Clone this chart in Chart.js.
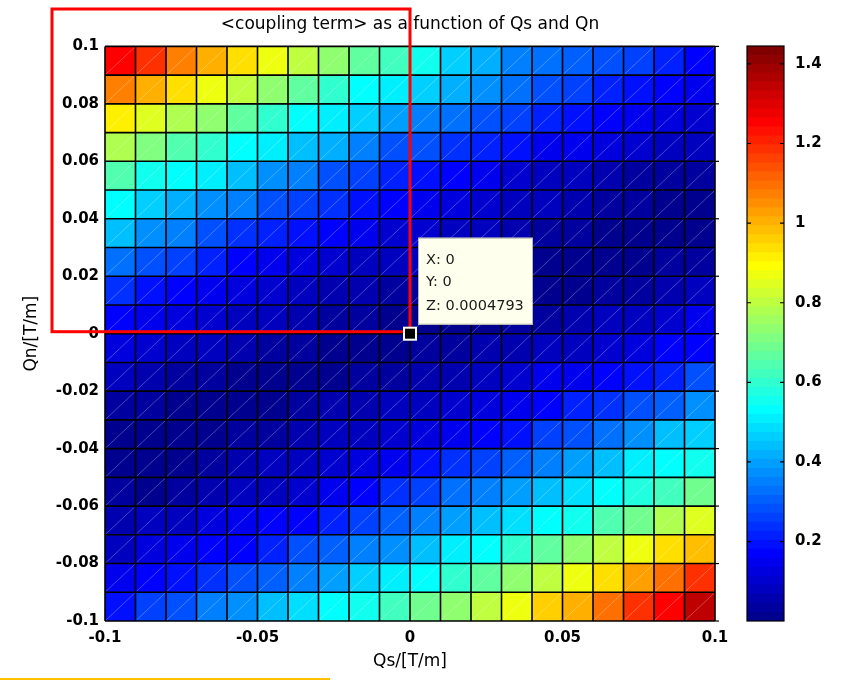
<!DOCTYPE html>
<html>
<head>
<meta charset="utf-8">
<title>coupling term</title>
<script src="https://cdn.jsdelivr.net/npm/chart.js@4.4.1/dist/chart.umd.min.js"></script>
<style>
  html, body { margin: 0; padding: 0; background: #fff; }
  #wrap { position: relative; width: 843px; height: 681px; }
  #main-chart { position: absolute; left: 0; top: 0; }
  #colorbar-chart { position: absolute; left: 740px; top: 0; }
</style>
</head>
<body>
<div id="wrap">
  <canvas id="main-chart" width="843" height="681"></canvas>
  <canvas id="colorbar-chart" width="103" height="681"></canvas>
</div>
<script>
// grid edges: Qs left to right, Qn top to bottom
const qsEdges = [-0.1, -0.09, -0.08, -0.07, -0.06, -0.05, -0.04, -0.03, -0.02, -0.01, 0,
                 0.01, 0.02, 0.03, 0.04, 0.05, 0.06, 0.07, 0.08, 0.09, 0.1];
const qnEdges = [0.1, 0.09, 0.08, 0.07, 0.06, 0.05, 0.04, 0.03, 0.02, 0.01, 0,
                 -0.01, -0.02, -0.03, -0.04, -0.05, -0.06, -0.07, -0.08, -0.09, -0.1];

// <coupling term> per face, one row per Qn band (top row first)
const couplingRows = [
  [1.25, 1.18, 1.08, 1.00, 0.93, 0.87, 0.80, 0.73, 0.66, 0.61, 0.55, 0.47, 0.41, 0.36, 0.33, 0.30, 0.28, 0.25, 0.22, 0.18],
  [1.08, 1.00, 0.93, 0.87, 0.80, 0.73, 0.66, 0.60, 0.54, 0.51, 0.47, 0.42, 0.37, 0.32, 0.29, 0.26, 0.22, 0.20, 0.17, 0.15],
  [0.92, 0.85, 0.77, 0.73, 0.66, 0.60, 0.54, 0.50, 0.46, 0.40, 0.36, 0.32, 0.28, 0.25, 0.21, 0.19, 0.16, 0.14, 0.13, 0.11],
  [0.78, 0.71, 0.64, 0.59, 0.53, 0.50, 0.45, 0.41, 0.34, 0.29, 0.28, 0.24, 0.21, 0.19, 0.15, 0.14, 0.12, 0.10, 0.09, 0.07],
  [0.64, 0.56, 0.53, 0.50, 0.43, 0.37, 0.34, 0.29, 0.26, 0.21, 0.19, 0.16, 0.14, 0.11, 0.09, 0.07, 0.06, 0.04, 0.03, 0.03],
  [0.53, 0.47, 0.42, 0.37, 0.34, 0.29, 0.27, 0.24, 0.19, 0.16, 0.15, 0.13, 0.11, 0.09, 0.07, 0.05, 0.04, 0.03, 0.02, 0.02],
  [0.43, 0.37, 0.34, 0.29, 0.24, 0.22, 0.19, 0.16, 0.14, 0.11, 0.10, 0.09, 0.07, 0.06, 0.04, 0.03, 0.02, 0.01, 0.01, 0.02],
  [0.32, 0.29, 0.25, 0.22, 0.17, 0.15, 0.13, 0.11, 0.09, 0.07, 0.07, 0.06, 0.05, 0.03, 0.02, 0.01, 0.01, 0.02, 0.03, 0.04],
  [0.24, 0.19, 0.16, 0.14, 0.12, 0.10, 0.08, 0.06, 0.05, 0.03, 0.03, 0.02, 0.02, 0.01, 0.01, 0.02, 0.03, 0.04, 0.06, 0.07],
  [0.17, 0.14, 0.12, 0.10, 0.08, 0.07, 0.05, 0.04, 0.03, 0.02, 0.0004793, 0.01, 0.02, 0.03, 0.04, 0.05, 0.07, 0.09, 0.11, 0.14],
  [0.13, 0.11, 0.09, 0.07, 0.05, 0.04, 0.03, 0.02, 0.01, 0.01, 0.03, 0.03, 0.05, 0.06, 0.07, 0.09, 0.11, 0.13, 0.16, 0.18],
  [0.07, 0.06, 0.04, 0.03, 0.02, 0.01, 0.01, 0.02, 0.03, 0.04, 0.05, 0.06, 0.08, 0.11, 0.14, 0.15, 0.17, 0.19, 0.22, 0.28],
  [0.04, 0.03, 0.02, 0.01, 0.01, 0.02, 0.03, 0.05, 0.06, 0.08, 0.09, 0.10, 0.12, 0.14, 0.17, 0.21, 0.23, 0.28, 0.30, 0.37],
  [0.02, 0.01, 0.01, 0.01, 0.03, 0.04, 0.06, 0.07, 0.09, 0.11, 0.12, 0.14, 0.18, 0.19, 0.25, 0.28, 0.32, 0.37, 0.43, 0.47],
  [0.01, 0.01, 0.02, 0.03, 0.05, 0.07, 0.09, 0.11, 0.13, 0.15, 0.19, 0.24, 0.26, 0.30, 0.34, 0.39, 0.44, 0.50, 0.53, 0.56],
  [0.03, 0.02, 0.03, 0.05, 0.07, 0.09, 0.11, 0.15, 0.18, 0.23, 0.26, 0.32, 0.35, 0.39, 0.44, 0.48, 0.52, 0.58, 0.63, 0.70],
  [0.05, 0.07, 0.09, 0.12, 0.14, 0.16, 0.18, 0.22, 0.26, 0.30, 0.34, 0.40, 0.44, 0.48, 0.54, 0.56, 0.64, 0.70, 0.77, 0.84],
  [0.09, 0.12, 0.14, 0.16, 0.18, 0.22, 0.29, 0.30, 0.35, 0.38, 0.44, 0.50, 0.54, 0.60, 0.66, 0.73, 0.80, 0.87, 0.93, 0.99],
  [0.14, 0.17, 0.19, 0.24, 0.28, 0.30, 0.35, 0.40, 0.46, 0.51, 0.54, 0.60, 0.66, 0.73, 0.80, 0.87, 0.94, 1.02, 1.09, 1.18],
  [0.20, 0.25, 0.29, 0.34, 0.38, 0.43, 0.48, 0.52, 0.56, 0.61, 0.68, 0.73, 0.80, 0.88, 0.95, 1.01, 1.09, 1.18, 1.25, 1.34]
];

const qsTicks = [-0.1, -0.05, 0, 0.05, 0.1];
const qnTicks = [-0.1, -0.08, -0.06, -0.04, -0.02, 0, 0.02, 0.04, 0.06, 0.08, 0.1];
const colorTicks = [0.2, 0.4, 0.6, 0.8, 1, 1.2, 1.4];
const colorLimits = [0.0004793, 1.445];

// data tip sits on the grid node (Qs, Qn) = (0, 0)
const tipQs = 0;
const tipQn = 0;

const FONT = 'DejaVu Sans';
const BAND_COUNT = 64;

// MATLAB jet(64)
function jetRgb(i) {
  const u = k => (k < 1 || k > 47) ? 0 : k <= 16 ? k / 16 : k <= 31 ? 1 : (48 - k) / 16;
  const r = i >= 25 ? u(i - 24) : 0;
  const g = (i >= 9 && i <= 55) ? u(i - 8) : 0;
  const b = i <= 39 ? u(i + 8) : 0;
  return `rgb(${Math.round(r * 255)},${Math.round(g * 255)},${Math.round(b * 255)})`;
}

function colorFor(v) {
  const [lo, hi] = colorLimits;
  let idx = Math.floor((v - lo) / (hi - lo) * BAND_COUNT) + 1;
  idx = Math.max(1, Math.min(BAND_COUNT, idx));
  return jetRgb(idx);
}

// one record per face, corners taken from the edge lists
const cellData = [];
couplingRows.forEach((row, r) => {
  row.forEach((v, c) => {
    cellData.push({ x: qsEdges[c], y: qnEdges[r + 1], x2: qsEdges[c + 1], y2: qnEdges[r], v: v });
  });
});

function tipValue() {
  const r = qnEdges.indexOf(tipQn) - 1;
  const c = qsEdges.indexOf(tipQs);
  return couplingRows[r][c];
}

// faces, seams and edges of the surface
const surfacePlugin = {
  id: 'surfaceCells',
  beforeDatasetsDraw(chart) {
    const { ctx, scales: { x, y } } = chart;
    ctx.save();
    chart.data.datasets[0].data.forEach(cell => {
      const left = x.getPixelForValue(cell.x);
      const right = x.getPixelForValue(cell.x2);
      const top = y.getPixelForValue(cell.y2);
      const bottom = y.getPixelForValue(cell.y);
      ctx.fillStyle = colorFor(cell.v);
      ctx.fillRect(left, top, right - left, bottom - top);
      ctx.strokeStyle = 'rgba(255,255,255,0.35)';
      ctx.lineWidth = 0.8;
      ctx.beginPath();
      ctx.moveTo(left + 1, bottom - 1);
      ctx.lineTo(right - 1, top + 1);
      ctx.stroke();
    });
    ctx.strokeStyle = '#000';
    ctx.lineWidth = 1.6;
    qsEdges.forEach(q => {
      const px = x.getPixelForValue(q);
      ctx.beginPath(); ctx.moveTo(px, y.top); ctx.lineTo(px, y.bottom); ctx.stroke();
    });
    qnEdges.forEach(q => {
      const py = y.getPixelForValue(q);
      ctx.beginPath(); ctx.moveTo(x.left, py); ctx.lineTo(x.right, py); ctx.stroke();
    });
    // short ticks poking out on the right side
    ctx.lineWidth = 1.2;
    qnTicks.forEach(q => {
      const py = y.getPixelForValue(q);
      ctx.beginPath(); ctx.moveTo(x.right, py); ctx.lineTo(x.right + 4, py); ctx.stroke();
    });
    ctx.restore();
  }
};

// highlight box, data tip and underline
const overlayPlugin = {
  id: 'overlay',
  afterDraw(chart) {
    const { ctx, scales: { x, y } } = chart;
    const px = x.getPixelForValue(tipQs);
    const py = y.getPixelForValue(tipQn);
    ctx.save();

    ctx.strokeStyle = '#ff0000';
    ctx.lineWidth = 3;
    ctx.strokeRect(52, 9, px - 52, py - 2 - 9);

    // data tip marker
    ctx.fillStyle = '#fffff2';
    ctx.fillRect(px - 7, py - 7, 14, 14);
    ctx.fillStyle = '#000';
    ctx.fillRect(px - 5, py - 5, 10, 10);

    // data tip box
    const bx = px + 8, by = py - 96, bw = 115, bh = 87;
    ctx.fillStyle = '#ffffee';
    ctx.fillRect(bx, by, bw, bh);
    ctx.strokeStyle = '#b8b8a8';
    ctx.lineWidth = 1;
    ctx.strokeRect(bx + 0.5, by + 0.5, bw - 1, bh - 1);
    ctx.fillStyle = '#1a1a1a';
    ctx.font = `14.5px "${FONT}"`;
    ctx.textAlign = 'left';
    ctx.textBaseline = 'middle';
    ctx.fillText(`X: ${tipQs}`, bx + 8, by + 23);
    ctx.fillText(`Y: ${tipQn}`, bx + 8, by + 45);
    ctx.fillText(`Z: ${tipValue()}`, bx + 8, by + 69);

    ctx.strokeStyle = '#ffc000';
    ctx.lineWidth = 2;
    ctx.beginPath(); ctx.moveTo(0, 679); ctx.lineTo(330, 679); ctx.stroke();
    ctx.restore();
  }
};

const tickFont = { family: FONT, size: 15, weight: 'bold' };
const labelFont = { family: FONT, size: 17, weight: 'normal' };

const mainChart = new Chart(document.getElementById('main-chart'), {
  type: 'scatter',
  data: {
    datasets: [{ data: cellData, pointRadius: 0, pointHoverRadius: 0 }]
  },
  options: {
    responsive: false,
    animation: false,
    events: [],
    layout: { padding: { left: 0, right: 128, top: 0, bottom: 0 } },
    plugins: {
      legend: { display: false },
      tooltip: { enabled: false },
      title: {
        display: true,
        fullSize: false,
        text: '<coupling term> as a function of Qs and Qn',
        color: '#000',
        font: labelFont,
        padding: { top: 14, bottom: 12 }
      }
    },
    scales: {
      x: {
        type: 'linear',
        min: -0.1,
        max: 0.1,
        afterBuildTicks: s => { s.ticks = qsTicks.map(v => ({ value: v })); },
        afterFit: s => { s.height = 60; },
        grid: { display: false, drawTicks: false },
        border: { display: false },
        ticks: { color: '#000', font: tickFont, padding: 8, maxRotation: 0, callback: v => String(v) },
        title: { display: true, text: 'Qs/[T/m]', color: '#000', font: labelFont, padding: { top: 0, bottom: 9 } }
      },
      y: {
        type: 'linear',
        min: -0.1,
        max: 0.1,
        afterBuildTicks: s => { s.ticks = qnTicks.map(v => ({ value: v })); },
        afterFit: s => { s.width = 105; },
        grid: { display: false, drawTicks: false },
        border: { display: false },
        ticks: { color: '#000', font: tickFont, padding: 6, callback: v => String(v) },
        title: { display: true, text: 'Qn/[T/m]', color: '#000', font: labelFont, padding: { top: 21, bottom: 0 } }
      }
    }
  },
  plugins: [surfacePlugin, overlayPlugin]
});

// colour bar: 64 floating bars stacked in one slot
const bandStep = (colorLimits[1] - colorLimits[0]) / BAND_COUNT;
const bandSets = [];
for (let k = 0; k < BAND_COUNT; k++) {
  const lo = colorLimits[0] + k * bandStep;
  bandSets.push({
    data: [[lo - bandStep * 0.15, lo + bandStep]],
    backgroundColor: jetRgb(k + 1),
    borderWidth: 0,
    grouped: false,
    barPercentage: 1,
    categoryPercentage: 1
  });
}

const colorbarFrame = {
  id: 'colorbarFrame',
  afterDraw(chart) {
    const { ctx, chartArea: a, scales: { y } } = chart;
    ctx.save();
    ctx.strokeStyle = '#000';
    ctx.lineWidth = 1.2;
    ctx.strokeRect(a.left, a.top, a.right - a.left, a.bottom - a.top);
    colorTicks.forEach(v => {
      const py = y.getPixelForValue(v);
      ctx.beginPath();
      ctx.moveTo(a.left, py); ctx.lineTo(a.left + 4, py);
      ctx.moveTo(a.right, py); ctx.lineTo(a.right - 4, py);
      ctx.stroke();
    });
    ctx.restore();
  }
};

const colorbarChart = new Chart(document.getElementById('colorbar-chart'), {
  type: 'bar',
  data: { labels: [''], datasets: bandSets },
  options: {
    responsive: false,
    animation: false,
    events: [],
    layout: { padding: { left: 7, right: 0, top: 46, bottom: 60 } },
    plugins: { legend: { display: false }, tooltip: { enabled: false } },
    scales: {
      x: { display: false },
      y: {
        position: 'right',
        min: colorLimits[0],
        max: colorLimits[1],
        afterBuildTicks: s => { s.ticks = colorTicks.map(v => ({ value: v })); },
        afterFit: s => { s.width = 59; },
        grid: { display: false, drawTicks: false },
        border: { display: false },
        ticks: { color: '#000', font: tickFont, padding: 11, callback: v => String(v) }
      }
    }
  },
  plugins: [colorbarFrame]
});
</script>
</body>
</html>
